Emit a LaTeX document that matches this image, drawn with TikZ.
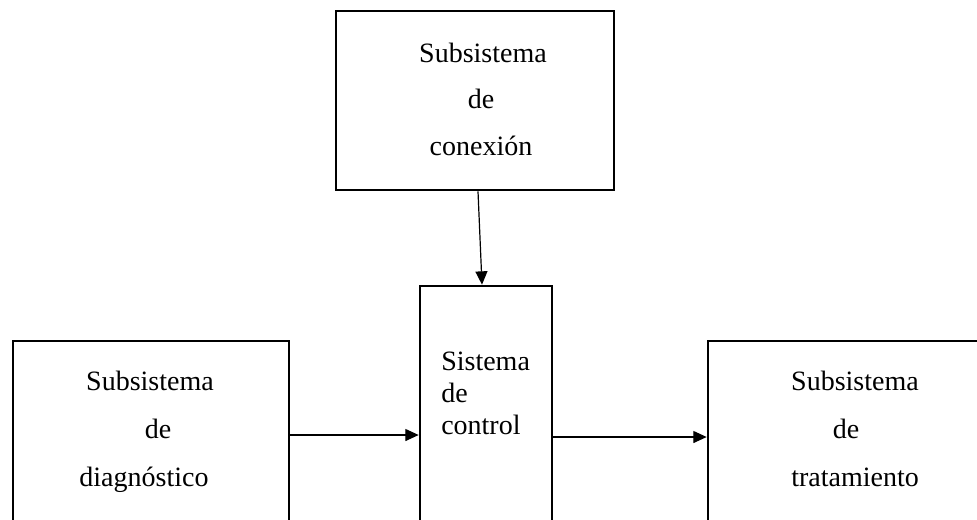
\documentclass[tikz,border=0pt]{standalone}
\usepackage{fontspec}
\setmainfont{Liberation Serif}
\usetikzlibrary{fit,arrows.meta}
\begin{document}
\begin{tikzpicture}[x=0.75pt,y=-0.75pt,
  box/.style={draw, line width=2pt, inner sep=0pt},
  arr/.style={line width=0.9pt, -{Triangle[length=10pt,width=9pt]}},
  txt/.style={font=\fontsize{21}{25}\selectfont, inner sep=0pt, anchor=base}]
\useasboundingbox (0,0) rectangle (977,519);
\clip (0,0) rectangle (977,519);
\node[box, fit={(336,11)(614,190)}] (top) {};
\node[box, fit={(420,286)(552,560)}] (ctrl) {};
\node[box, fit={(13,341)(289,560)}] (left) {};
\node[box, fit={(708,341)(1000,560)}] (right) {};
% texts
\node[txt] (t1) at (483,62) {Subsistema};
\node[txt] (t2) at (481,108) {de};
\node[txt] (t3) at (481,155) {conexión};
\node[txt, anchor=base west] (c1) at (441,370) {Sistema};
\node[txt, anchor=base west] (c2) at (441,402) {de};
\node[txt, anchor=base west] (c3) at (441,434) {control};
\node[txt] (l1) at (150,390) {Subsistema};
\node[txt] (l2) at (158,438) {de};
\node[txt] (l3) at (144,486) {diagnóstico};
\node[txt] (r1) at (855,390) {Subsistema};
\node[txt] (r2) at (846,438) {de};
\node[txt] (r3) at (855,486) {tratamiento};
% connectors
\coordinate (ya) at (0,435);
\coordinate (yb) at (0,437);
\draw[arr] ([xshift=2.25pt]top.south) -- ([xshift=-3pt]ctrl.north);
\draw[arr] (left.east |- ya) -- (ctrl.west |- ya);
\draw[arr] (ctrl.east |- yb) -- (right.west |- yb);
\end{tikzpicture}
\end{document}
